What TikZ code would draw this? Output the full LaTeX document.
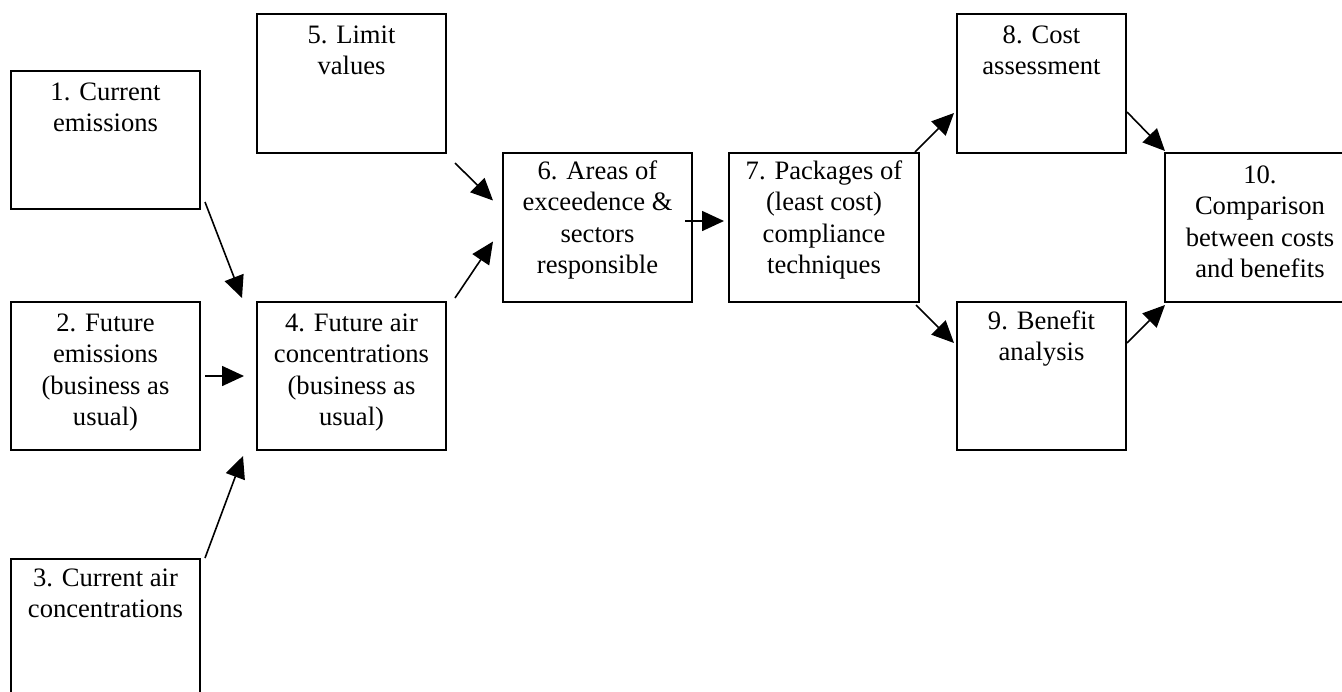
\documentclass[tikz,border=0pt]{standalone}
\usepackage{fontspec}
\setmainfont{Liberation Serif}
\usetikzlibrary{arrows.meta,positioning}

\tikzset{
  box/.style={draw, line width=0.7pt, inner sep=0pt, outer sep=0pt},
  txt/.style={align=center, inner sep=0pt, font=\fontsize{13.3}{15.8}\selectfont},
  arr/.style={-{Triangle[length=11pt,width=10pt]}, line width=0.8pt}
}

\begin{document}
\begin{tikzpicture}[x=0.5pt,y=-0.5pt]
  \useasboundingbox (0,0) rectangle (1342,691);
  \clip (0,0) rectangle (1342,691);

  \node[box, minimum width=94.5pt, minimum height=69pt] (N1) at (105.5,140) {};
  \node[box, minimum width=94.5pt, minimum height=74pt] (N2) at (105.5,376) {};
  \node[box, minimum width=94.5pt, minimum height=80.5pt] (N3) at (105.5,639.5) {};
  \node[box, minimum width=94.5pt, minimum height=74pt] (N4) at (351.5,376) {};
  \node[box, minimum width=94.5pt, minimum height=69.5pt] (N5) at (351.5,83.5) {};
  \node[box, minimum width=94.5pt, minimum height=74.5pt] (N6) at (597.5,227.5) {};
  \node[box, minimum width=95pt, minimum height=74.5pt] (N7) at (824,227.5) {};
  \node[box, minimum width=84.5pt, minimum height=69.5pt] (N8) at (1041.5,83.5) {};
  \node[box, minimum width=84.5pt, minimum height=74pt] (N9) at (1041.5,376) {};
  \node[box, minimum width=95pt, minimum height=74.5pt] (N10) at (1260,227.5) {};

  \node[txt, below=5.5pt of N1.north] (T1) {1. Current\\emissions};
  \node[txt, below=5.5pt of N2.north] (T2) {2. Future\\emissions\\(business as\\usual)};
  \node[txt, below=4.5pt of N3.north] (T3) {3. Current air\\concentrations};
  \node[txt, below=5.5pt of N4.north] (T4) {4. Future air\\concentrations\\(business as\\usual)};
  \node[txt, below=5.5pt of N5.north] (T5) {5. Limit\\values};
  \node[txt, below=3.5pt of N6.north] (T6) {6. Areas of\\exceedence \&\\sectors\\responsible};
  \node[txt, below=3.5pt of N7.north] (T7) {7. Packages of\\(least cost)\\compliance\\techniques};
  \node[txt, below=5.5pt of N8.north] (T8) {8. Cost\\assessment};
  \node[txt, below=4pt of N9.north] (T9) {9. Benefit\\analysis};
  \node[txt, below=6pt of N10.north] (T10) {10.\\Comparison\\between costs\\and benefits};

  \draw[arr] ([shift={(5,-7)}]N1.south east) -- ([shift={(-15,-4)}]N4.north west);
  \draw[arr] ([shift={(5,0)}]N2.east) -- ([shift={(-13,0)}]N4.west);
  \draw[arr] ([shift={(5,-1)}]N3.north east) -- ([shift={(-14,6)}]N4.south west);
  \draw[arr] ([shift={(9,10)}]N5.south east) -- ([shift={(-10,-27)}]N6.west);
  \draw[arr] ([shift={(9,-4)}]N4.north east) -- ([shift={(-10,14)}]N6.west);
  \draw[arr] ([shift={(-7,-6.5)}]N6.east) -- ([shift={(-5,-6.5)}]N7.west);
  \draw[arr] ([shift={(-4,-1)}]N7.north east) -- ([shift={(-3,-40)}]N8.south west);
  \draw[arr] ([shift={(-3,3)}]N7.south east) -- ([shift={(-3,41)}]N9.north west);
  \draw[arr] ([shift={(1,-41)}]N8.south east) -- ([shift={(0,-2)}]N10.north west);
  \draw[arr] ([shift={(1,41)}]N9.north east) -- ([shift={(0,3)}]N10.south west);
\end{tikzpicture}
\end{document}
